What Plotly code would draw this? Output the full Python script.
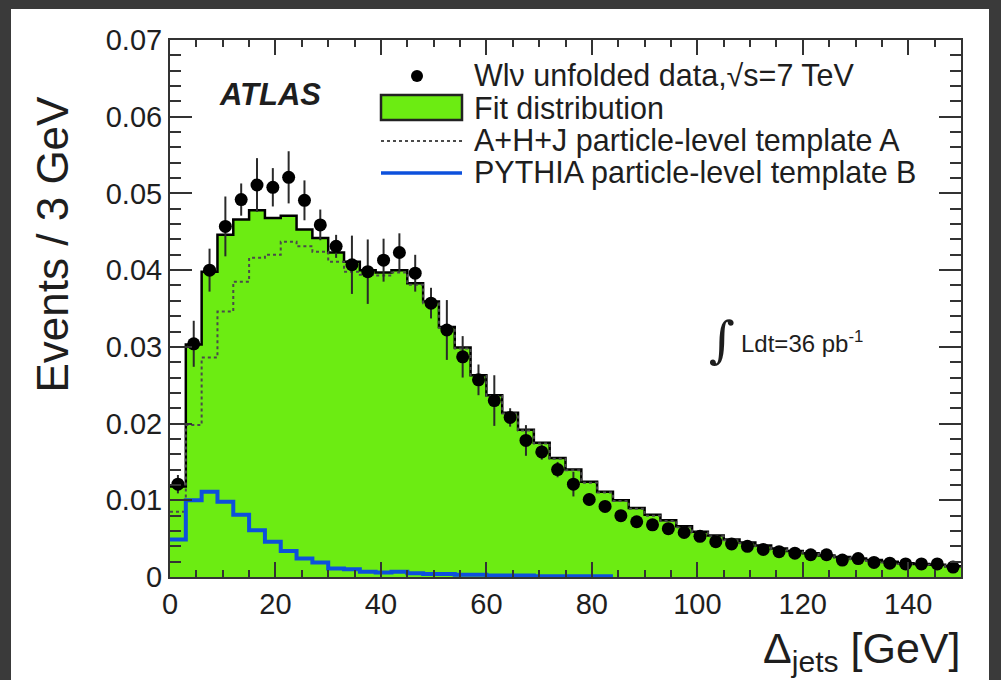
import plotly.graph_objects as go

# Binning: 3 GeV bins from 0 to 150 GeV
bin_width = 3.0
n_bins = 50
bin_edges = [i * bin_width for i in range(n_bins + 1)]
bin_centers = [(i + 0.5) * bin_width for i in range(n_bins)]

# Unfolded data and its uncertainties
data_vals = [
    0.0121, 0.0304, 0.0400, 0.0457, 0.0492, 0.0511, 0.0508, 0.0521, 0.0491, 0.0459,
    0.0431, 0.0407, 0.0398, 0.0413, 0.0423, 0.0396, 0.0357, 0.0322, 0.0287, 0.0257,
    0.0230, 0.0208, 0.0178, 0.0163, 0.0140, 0.0121, 0.0101, 0.0092, 0.0080, 0.0072,
    0.0068, 0.0063, 0.0058, 0.0053, 0.0046, 0.0043, 0.0040, 0.0036, 0.0033, 0.0031,
    0.0029, 0.0029, 0.0022, 0.0024, 0.0019, 0.0018, 0.0017, 0.0017, 0.0017, 0.0013,
]
data_errs = [
    0.0012, 0.0030, 0.0028, 0.0039, 0.0021, 0.0035, 0.0025, 0.0034, 0.0026, 0.0020,
    0.0015, 0.0038, 0.0042, 0.0028, 0.0025, 0.0024, 0.0020, 0.0039, 0.0027, 0.0020,
    0.0033, 0.0012, 0.0020, 0.0010, 0.0010, 0.0016, 0.0008, 0.0006, 0.0006, 0.0005,
    0.0005, 0.0005, 0.0004, 0.0004, 0.0004, 0.0004, 0.0003, 0.0003, 0.0003, 0.0003,
    0.0003, 0.0003, 0.0003, 0.0003, 0.0002, 0.0002, 0.0002, 0.0002, 0.0002, 0.0002,
]

# Fitted combination of the two templates
fit_vals = [
    0.0118, 0.0303, 0.0398, 0.0446, 0.0466, 0.0478, 0.0468, 0.0471, 0.0453, 0.0442,
    0.0423, 0.0411, 0.0400, 0.0397, 0.0400, 0.0383, 0.0359, 0.0326, 0.0299, 0.0263,
    0.0237, 0.0214, 0.0192, 0.0175, 0.0155, 0.0140, 0.0124, 0.0111, 0.0100, 0.0090,
    0.0081, 0.0074, 0.0066, 0.0059, 0.0054, 0.0049, 0.0045, 0.0041, 0.0037, 0.0034,
    0.0031, 0.0028, 0.0026, 0.0024, 0.0022, 0.0020, 0.0018, 0.0017, 0.0016, 0.0014,
]

# Template A (A+H+J particle level)
template_a = [
    0.0085, 0.0198, 0.0286, 0.0346, 0.0385, 0.0416, 0.0420, 0.0437, 0.0431, 0.0424,
    0.0411, 0.0398, 0.0394, 0.0393, 0.0397, 0.0381, 0.0357, 0.0325, 0.0298, 0.0262,
    0.0236, 0.0213, 0.0191, 0.0174, 0.0154, 0.0139, 0.0123, 0.0110, 0.0099, 0.0089,
    0.0080, 0.0073, 0.0065, 0.0058, 0.0053, 0.0048, 0.0044, 0.0040, 0.0036, 0.0033,
    0.0030, 0.0027, 0.0025, 0.0023, 0.0021, 0.0019, 0.0017, 0.0016, 0.0015, 0.0013,
]

# Template B (PYTHIA particle level), defined up to 84 GeV
template_b = [
    0.0049, 0.0100, 0.0111, 0.0098, 0.0081, 0.0061, 0.0046, 0.0034, 0.0024, 0.0019,
    0.0011, 0.0010, 0.0007, 0.0006, 0.0007, 0.0005, 0.0004, 0.0004, 0.0003, 0.0003,
    0.0002, 0.0002, 0.0002, 0.0001, 0.0001, 0.0001, 0.0001, 0.0001,
]

x_ticks = [0, 20, 40, 60, 80, 100, 120, 140]
y_ticks = [0, 0.01, 0.02, 0.03, 0.04, 0.05, 0.06, 0.07]
y_tick_text = ["0", "0.01", "0.02", "0.03", "0.04", "0.05", "0.06", "0.07"]

FONT = "Liberation Sans, Arial, Helvetica, sans-serif"
GREEN = "#6cec12"
BLUE = "#0d50dc"
INK = "#1e1e1e"

W, H = 1001, 680
L, R, T, B = 170, 961, 40, 577


def px(xp):
    return (xp - L) / (R - L)


def py(yp):
    return (B - yp) / (B - T)


def step(vals):
    edges = bin_edges[: len(vals) + 1]
    return edges, list(vals) + [vals[-1]]


fig = go.Figure()

sx, sy = step(fit_vals)
fig.add_trace(go.Scatter(
    x=sx, y=sy, mode="lines", line=dict(color="black", width=2.5, shape="hv"),
    fill="tozeroy", fillcolor=GREEN, hoverinfo="skip", showlegend=False,
))

ax_, ay_ = step(template_a)
fig.add_trace(go.Scatter(
    x=ax_, y=ay_, mode="lines",
    line=dict(color="#4a4a4a", width=2, dash="dot", shape="hv"),
    hoverinfo="skip", showlegend=False,
))

bx_, by_ = step(template_b)
fig.add_trace(go.Scatter(
    x=bx_, y=by_, mode="lines", line=dict(color=BLUE, width=4, shape="hv"),
    hoverinfo="skip", showlegend=False,
))

fig.add_trace(go.Scatter(
    x=bin_centers, y=data_vals, mode="markers",
    marker=dict(color="black", size=13, symbol="circle"),
    error_y=dict(type="data", array=data_errs, visible=True,
                 color="#2a2a2a", thickness=2, width=0),
    showlegend=False,
))

axis_common = dict(
    showline=True, linecolor="#333333", linewidth=2, mirror="allticks",
    ticks="inside", tickcolor="#333333", tickwidth=2,
    showgrid=False, zeroline=False,
    tickfont=dict(family=FONT, size=29, color=INK),
)

fig.update_xaxes(
    range=[0, 150], tickvals=x_ticks, ticklen=15,
    minor=dict(dtick=5, ticks="inside", ticklen=7, tickcolor="#333333", tickwidth=2, showgrid=False),
    **axis_common,
)
fig.update_yaxes(
    range=[0, 0.07], tickvals=y_ticks, ticktext=y_tick_text, ticklen=22,
    minor=dict(dtick=0.002, ticks="inside", ticklen=11, tickcolor="#333333", tickwidth=2, showgrid=False),
    **axis_common,
)

shapes = [
    # white canvas panel inside the dark border
    dict(type="rect", xref="paper", yref="paper", layer="below",
         x0=px(11), x1=px(989), y0=py(700), y1=py(9),
         fillcolor="white", line=dict(width=0)),
    # legend symbols
    dict(type="circle", xref="paper", yref="paper",
         x0=px(411), x1=px(423), y0=py(82), y1=py(70),
         fillcolor="black", line=dict(width=0)),
    dict(type="rect", xref="paper", yref="paper",
         x0=px(381), x1=px(462), y0=py(120), y1=py(95),
         fillcolor=GREEN, line=dict(color="#222222", width=2.5)),
    dict(type="line", xref="paper", yref="paper",
         x0=px(381), x1=px(462), y0=py(141), y1=py(141),
         line=dict(color="#4a4a4a", width=2, dash="dot")),
    dict(type="line", xref="paper", yref="paper",
         x0=px(381), x1=px(462), y0=py(173), y1=py(173),
         line=dict(color=BLUE, width=3.5)),
]

legend_rows = [
    ("Wlν unfolded data,√s=7 TeV", 75),
    ("Fit distribution", 107.5),
    ("A+H+J particle-level template A", 140),
    ("PYTHIA particle-level template B", 172.5),
]

annotations = []
for text, yp in legend_rows:
    annotations.append(dict(
        text=text, xref="paper", yref="paper", x=px(472), y=py(yp),
        xanchor="left", yanchor="middle", showarrow=False,
        font=dict(family=FONT, size=30.5, color=INK),
    ))

annotations += [
    dict(text="<b><i>ATLAS</i></b>", xref="paper", yref="paper",
         x=px(217), y=py(95), xanchor="left", yanchor="middle", showarrow=False,
         font=dict(family=FONT, size=31, color=INK)),
    dict(text="∫", xref="paper", yref="paper",
         x=px(722), y=py(340), xanchor="center", yanchor="middle", showarrow=False,
         font=dict(family="DejaVu Serif, serif", size=50, color=INK)),
    dict(text="Ldt=36 pb<sup>-1</sup>", xref="paper", yref="paper",
         x=px(739), y=py(342), xanchor="left", yanchor="middle", showarrow=False,
         font=dict(family=FONT, size=24, color=INK)),
    dict(text="Δ<sub>jets</sub> [GeV]", xref="paper", yref="paper",
         x=px(962), y=py(651), xanchor="right", yanchor="middle", showarrow=False,
         font=dict(family=FONT, size=43, color=INK)),
    dict(text="Events / 3 GeV", xref="paper", yref="paper", textangle=-90,
         x=px(52), y=py(94), xanchor="center", yanchor="top", showarrow=False,
         font=dict(family=FONT, size=44, color=INK)),
]

fig.update_layout(
    width=W, height=H,
    margin=dict(l=L, r=W - R, t=T, b=H - B),
    paper_bgcolor="#3a3a3a", plot_bgcolor="white",
    shapes=shapes, annotations=annotations,
    showlegend=False,
)

fig.write_html("out.html")
